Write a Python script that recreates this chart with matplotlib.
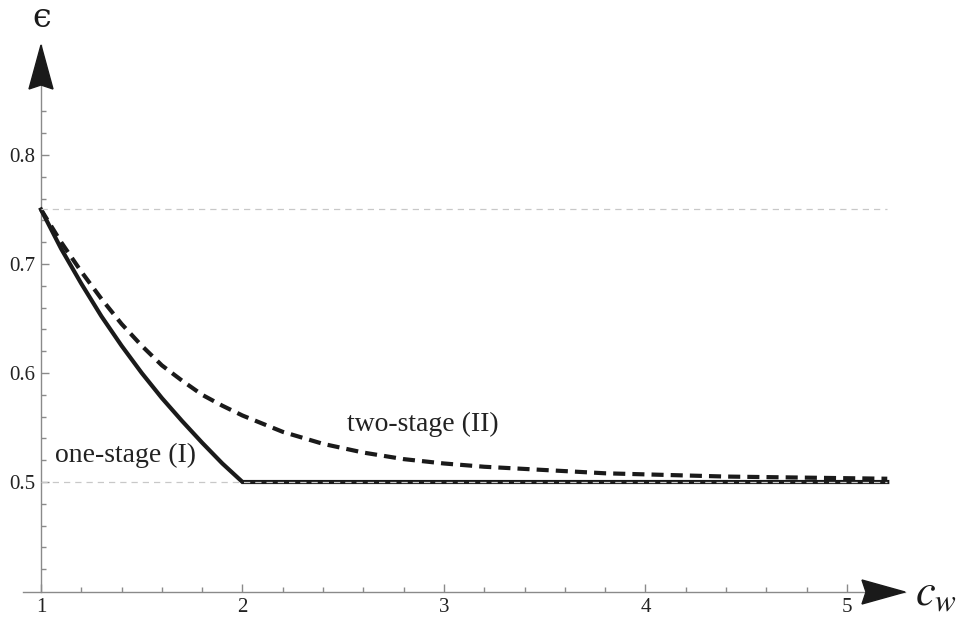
import numpy as np
import matplotlib
matplotlib.use("Agg")
import matplotlib.pyplot as plt
from matplotlib.patches import Polygon

# ---- data ----
cw_one = [1.0, 1.1, 1.2, 1.3, 1.4, 1.5, 1.6, 1.7, 1.8, 1.9, 2.0, 5.2]
eps_one = [0.750, 0.714, 0.682, 0.652, 0.625, 0.600, 0.577, 0.556, 0.536, 0.517, 0.500, 0.500]

cw_two = [1.0, 1.1, 1.2, 1.3, 1.4, 1.5, 1.6, 1.7, 1.8, 1.9, 2.0, 2.2, 2.4, 2.6, 2.8, 3.0,
          3.2, 3.4, 3.6, 3.8, 4.0, 4.4, 4.8, 5.2]
eps_two = [0.750, 0.720, 0.693, 0.668, 0.645, 0.625, 0.607, 0.593, 0.580, 0.570, 0.561,
           0.546, 0.535, 0.527, 0.521, 0.517, 0.514, 0.512, 0.510, 0.508, 0.507, 0.505,
           0.504, 0.503]

x_major = [1, 2, 3, 4, 5]
y_major = [0.5, 0.6, 0.7, 0.8]
grid_levels = [0.5, 0.75]
labels = ["one-stage (I)", "two-stage (II)"]

# ---- figure ----
plt.rcParams['mathtext.fontset'] = 'stix'
W, H = 961, 624
fig = plt.figure(figsize=(W / 100, H / 100), dpi=100)
L, R, T, B = 23, 905, 45, 592
ax = fig.add_axes([L / W, (H - B) / H, (R - L) / W, (B - T) / H])
xlim = (0.9107, 5.288)
ylim = (0.3991, 0.9009)
ax.set_xlim(*xlim)
ax.set_ylim(*ylim)

axis_col = '#8a8a8a'
for s in ['top', 'right']:
    ax.spines[s].set_visible(False)
ax.spines['left'].set_position(('data', 1.0))
ax.spines['left'].set_color(axis_col)
ax.spines['bottom'].set_color(axis_col)
ax.spines['left'].set_linewidth(1.0)
ax.spines['bottom'].set_linewidth(1.0)

ax.set_xticks(x_major)
ax.set_xticks([v for v in np.arange(1.2, 5.01, 0.2) if abs(v - round(v)) > 1e-6], minor=True)
ax.set_yticks(y_major)
ax.set_yticks([v for v in np.arange(0.42, 0.85, 0.02)
               if min(abs(v - m) for m in y_major) > 1e-6], minor=True)
ax.set_xticklabels([str(v) for v in x_major])
ax.set_yticklabels([f"{v:.1f}" for v in y_major])
ax.tick_params(which='both', direction='in', color=axis_col, width=1.0,
               labelsize=15, labelcolor='#222222')
ax.tick_params(which='major', length=5.5, pad=4)
ax.tick_params(which='minor', length=3.5)
for lab in ax.get_xticklabels() + ax.get_yticklabels():
    lab.set_fontfamily('Liberation Serif')

# gridlines
for g in grid_levels:
    ax.plot([1.0, 5.2], [g, g], color='#c8c8c8', lw=0.9, dashes=(5, 4), zorder=4)

# curves
ax.plot(cw_one, eps_one, color='#1a1a1a', lw=3.0, solid_joinstyle='miter', zorder=3)
ax.plot(cw_two, eps_two, color='#1a1a1a', lw=3.0, dashes=(2.9, 1.7), zorder=3)

# labels
ax.text(1.07, 0.524, labels[0], fontsize=20, family='Liberation Serif',
        color='#222222', va='center', ha='left')
ax.text(2.52, 0.553, labels[1], fontsize=20, family='Liberation Serif',
        color='#222222', va='center', ha='left')

# arrowheads (axes fraction)
aw = R - L
ah = B - T
fx1 = (1.0 - xlim[0]) / (xlim[1] - xlim[0])
# y arrow
hw = 12 / aw
ln = 44 / ah
notch = 4 / ah
ax.add_patch(Polygon([[fx1, 1.0], [fx1 + hw, 1.0 - ln], [fx1, 1.0 - ln + notch],
                      [fx1 - hw, 1.0 - ln]], closed=True, transform=ax.transAxes,
                     color='#1a1a1a', clip_on=False, zorder=5))
# x arrow
hh = 12 / ah
lx = 43 / aw
nx = 4 / aw
ax.add_patch(Polygon([[1.0, 0.0], [1.0 - lx, hh], [1.0 - lx + nx, 0.0],
                      [1.0 - lx, -hh]], closed=True, transform=ax.transAxes,
                     color='#1a1a1a', clip_on=False, zorder=5))

# axis labels
fig.text(42 / W, 1 - 18 / H, '\u03f5', fontsize=24, family='DejaVu Serif',
         ha='center', va='center', color='#1a1a1a')
fig.text(936 / W, 1 - 593 / H, r'$c_w$', fontsize=32, ha='center', va='center',
         color='#1a1a1a')

fig.savefig('out.png', dpi=100)
